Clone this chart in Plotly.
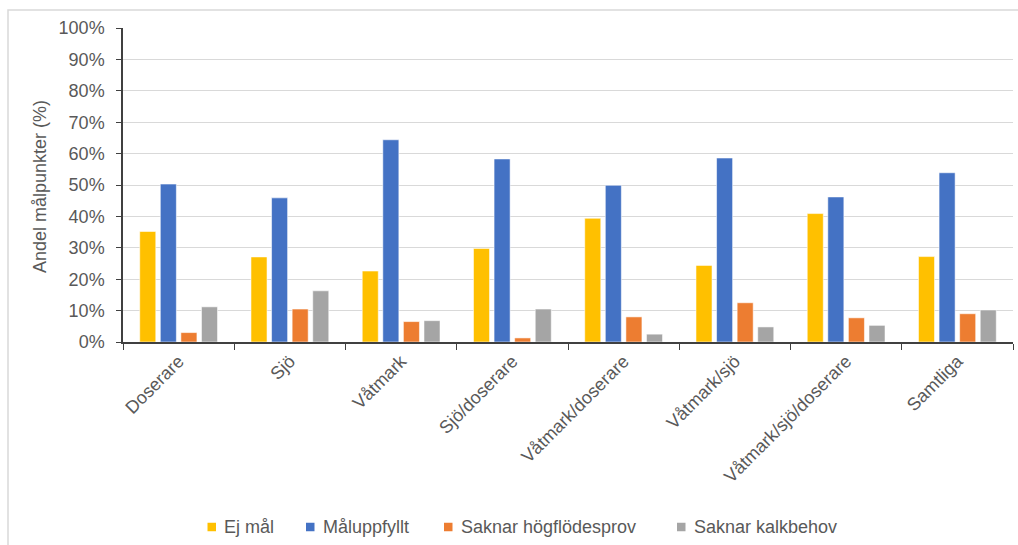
import plotly.graph_objects as go

# Categories and series values (percent of target points)
categories = ["Doserare", "Sjö", "Våtmark", "Sjö/doserare", "Våtmark/doserare",
              "Våtmark/sjö", "Våtmark/sjö/doserare", "Samtliga"]
ej_mal = [35.2, 27.1, 22.6, 29.8, 39.4, 24.4, 40.9, 27.2]
maluppfyllt = [50.3, 45.9, 64.4, 58.3, 49.9, 58.6, 46.2, 53.9]
saknar_hogflodesprov = [3.0, 10.5, 6.5, 1.3, 8.0, 12.5, 7.7, 9.0]
saknar_kalkbehov = [11.2, 16.3, 6.8, 10.5, 2.5, 4.8, 5.3, 10.2]

y_ticks = [0, 10, 20, 30, 40, 50, 60, 70, 80, 90, 100]
y_tick_labels = [f"{v}%" for v in y_ticks]

series_names = ["Ej mål", "Måluppfyllt", "Saknar högflödesprov", "Saknar kalkbehov"]
series_values = [ej_mal, maluppfyllt, saknar_hogflodesprov, saknar_kalkbehov]
series_colors = ["#FFC000", "#4472C4", "#ED7D31", "#A5A5A5"]

FONT = "Liberation Sans, Arial, sans-serif"
TEXT = "#595959"

W, H = 1018, 545
L, R, T, B = 123, 5, 28, 203
pw, ph = W - L - R, H - T - B


def px_x(x):
    return (x - L) / pw


def px_y(y):
    return (H - B - y) / ph


fig = go.Figure()
for name, vals, color in zip(series_names, series_values, series_colors):
    fig.add_trace(go.Bar(
        name=name, x=categories, y=vals, showlegend=False,
        marker=dict(color=color, line=dict(color="rgba(255,255,255,0.55)", width=1)),
    ))

# Legend row at the bottom: small colour squares followed by the series names
legend_left = [207.5, 306, 444, 677]
legend_y = 527
sq = 8.5
shapes = []
annotations = []
for name, color, x0 in zip(series_names, series_colors, legend_left):
    shapes.append(dict(
        type="rect", xref="paper", yref="paper",
        x0=px_x(x0), x1=px_x(x0 + sq),
        y0=px_y(legend_y + sq / 2), y1=px_y(legend_y - sq / 2),
        line=dict(width=0), fillcolor=color,
    ))
    annotations.append(dict(
        text=name, xref="paper", yref="paper",
        x=px_x(x0 + sq + 6), y=px_y(legend_y),
        xanchor="left", yanchor="middle", showarrow=False,
        font=dict(family=FONT, size=18, color=TEXT),
    ))

annotations.append(dict(
    text="Andel målpunkter (%)", textangle=-90,
    xref="paper", yref="paper", x=px_x(40.5), y=px_y(186.5),
    xanchor="center", yanchor="middle", showarrow=False,
    font=dict(family=FONT, size=18, color=TEXT),
))

# Light frame around the chart area
shapes.append(dict(
    type="rect", xref="paper", yref="paper",
    x0=px_x(8), x1=px_x(1040), y0=px_y(560), y1=px_y(10),
    line=dict(color="#D9D9D9", width=1.5), fillcolor="rgba(0,0,0,0)",
    layer="below",
))

fig.update_layout(
    width=W, height=H,
    margin=dict(l=L, r=R, t=T, b=B),
    paper_bgcolor="white", plot_bgcolor="white",
    barmode="group", bargap=0.26, bargroupgap=0.22,
    font=dict(family=FONT, size=18, color=TEXT),
    showlegend=False,
    xaxis=dict(
        showline=True, linecolor="#404040", linewidth=1.5,
        ticks="outside", tickson="boundaries", ticklen=6, tickcolor="#404040",
        tickangle=-45, tickfont=dict(family=FONT, size=18, color=TEXT),
        showgrid=False,
    ),
    yaxis=dict(
        range=[0, 100], tickvals=y_ticks, ticktext=y_tick_labels,
        showline=True, linecolor="#404040", linewidth=1.5,
        ticks="outside", ticklen=5, tickcolor="#404040",
        ticklabelstandoff=8,
        showgrid=True, gridcolor="#D9D9D9", gridwidth=1.2,
        tickfont=dict(family=FONT, size=18, color=TEXT),
        zeroline=False,
    ),
    annotations=annotations,
    shapes=shapes,
)

fig.write_html("out.html")
